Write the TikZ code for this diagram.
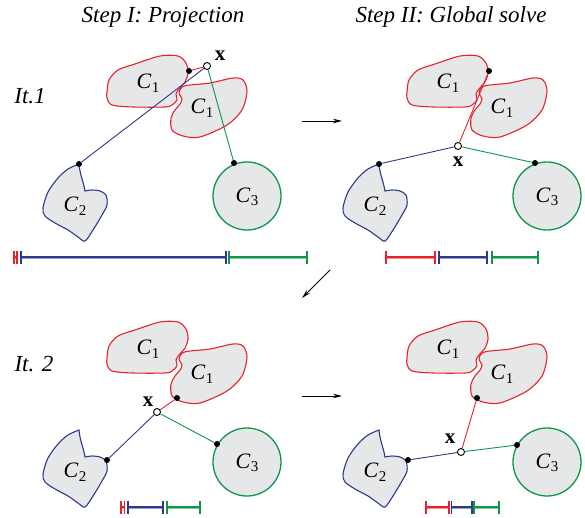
\documentclass[tikz,border=0pt]{standalone}
\usepackage{fontspec}
\setmainfont{Liberation Serif}
\usetikzlibrary{arrows.meta}
\definecolor{cred}{RGB}{232,34,44}
\definecolor{cblue}{RGB}{46,56,140}
\definecolor{cgreen}{RGB}{14,150,72}
\definecolor{cfill}{RGB}{230,231,233}
\tikzset{
  blobred/.style={draw=cred, fill=cfill, line width=1.1pt},
  blobblue/.style={draw=cblue, fill=cfill, line width=1.1pt},
  blobgreen/.style={draw=cgreen, fill=cfill, line width=1.3pt},
  dotn/.style={circle, fill=black, inner sep=0pt, minimum size=6pt},
  xpt/.style={circle, draw=black, fill=white, inner sep=0pt, minimum size=7pt, line width=0.9pt},
  conn/.style={line width=0.9pt},
  clab/.style={font=\fontsize{22}{24}\selectfont, inner sep=0pt},
  xlab/.style={font=\fontsize{21}{22}\selectfont\bfseries, inner sep=0pt},
  ttl/.style={font=\fontsize{23}{25}\selectfont\itshape, inner sep=0pt, anchor=base},
  stepar/.style={-{Stealth[length=9pt,width=4.5pt]}, line width=0.9pt},
}
\newcommand\Clab[1]{\textit{C}\kern0.3pt\raisebox{-0.35ex}{\fontsize{15}{15}\selectfont #1}}
\newcommand\seg[4]{%
  \draw[#1!50, line width=3pt] (#2,#4) -- (#3,#4);
  \draw[#1, line width=1.3pt] (#2,#4) -- (#3,#4);
  \draw[#1, line width=1.8pt] (#2,#4-6.5) -- (#2,#4+6.5) (#3,#4-6.5) -- (#3,#4+6.5);}
\newcommand\blobset[1]{%
  \path[blobred] plot[smooth cycle] coordinates {(107,92) (109,80) (118,70) (135,64) (160,56) (178,56) (186,63) (188,73) (185,82) (179,89) (176,94) (177,100) (172,105) (165,107) (133,107) (112,105) (107,98)};
  \path[blobred] plot[smooth cycle] coordinates {(182,87) (179,93) (182,99) (180,104) (175,110) (171,118) (172,130) (183,136) (200,137) (227,125) (242,110) (247,91) (243,80) (233,78) (210,83) (190,85)};
  \path[blobblue] (79,164) to[out=-85,in=100] (85,191) -- plot[smooth] coordinates {(85,191) (92,190) (100,191) (106,195) (107,205) (102,215) (93,230) (85,241) (78,237) (68,230) (55,223) (45,216) (43,208) (48,192) (58,178) (68,169) (79,164)} -- cycle;
  \path[blobgreen] (247,196) circle[radius=34];
  \node[clab] (ca#1) at (148,83) {\Clab{1}};
  \node[clab] (cb#1) at (202,108) {\Clab{1}};
  \node[clab] (cc#1) at (75,206) {\Clab{2}};
  \node[clab] (cd#1) at (247,197) {\Clab{3}};
}
\begin{document}
\begin{tikzpicture}[x=1pt,y=-1pt]
\useasboundingbox (0,0) rectangle (585,518);
% titles
\node[ttl] (t1) at (163,23) {Step I: Projection};
\node[ttl] (t2) at (451,23) {Step II: Global solve};
\node[ttl] (it1) at (30,104) {It.1};
\node[ttl] (it2) at (34,371) {It. 2};
% panels
\blobset{p}
\begin{scope}[shift={(300,0)}]\blobset{q}\end{scope}
\begin{scope}[shift={(0,266)}]\blobset{r}\end{scope}
\begin{scope}[shift={(300,266)}]\blobset{s}\end{scope}
% panel 1
\node[xpt] (x1) at (207,66) {};
\node[dotn] (r1) at (189,71) {};
\node[dotn] (b1) at (79,164) {};
\node[dotn] (g1) at (234,163) {};
\draw[conn,cred] (x1) -- (r1);
\draw[conn,cblue] (x1) -- (b1);
\draw[conn,cgreen] (x1) -- (g1);
\node[xlab] (xl1) at (220,56) {x};
% panel 2
\node[xpt] (x2) at (458,146) {};
\node[dotn] (r2) at (489,71) {};
\node[dotn] (b2) at (379,164) {};
\node[dotn] (g2) at (535,163) {};
\draw[conn,cred] (x2) -- (r2);
\draw[conn,cblue] (x2) -- (b2);
\draw[conn,cgreen] (x2) -- (g2);
\node[xlab] (xl2) at (458,162) {x};
% panel 3
\node[xpt] (x3) at (157,412) {};
\node[dotn] (r3) at (177,398) {};
\node[dotn] (b3) at (107,460) {};
\node[dotn] (g3) at (217,444) {};
\draw[conn,cred] (x3) -- (r3);
\draw[conn,cblue] (x3) -- (b3);
\draw[conn,cgreen] (x3) -- (g3);
\node[xlab] (xl3) at (148,402) {x};
% panel 4
\node[xpt] (x4) at (461,452) {};
\node[dotn] (r4) at (477,398) {};
\node[dotn] (b4) at (408,460) {};
\node[dotn] (g4) at (517,445) {};
\draw[conn,cred] (x4) -- (r4);
\draw[conn,cblue] (x4) -- (b4);
\draw[conn,cgreen] (x4) -- (g4);
\node[xlab] (xl4) at (450,439) {x};
% bars
\seg{cred}{14}{17}{257}\seg{cblue}{21}{226}{257}\seg{cgreen}{229}{307}{257}
\seg{cred}{386}{435}{257}\seg{cblue}{439}{487}{257}\seg{cgreen}{492}{538}{257}
\seg{cred}{121}{124.5}{507}\seg{cblue}{128}{163}{507}\seg{cgreen}{167}{200}{507}
\seg{cred}{426}{449}{507}\seg{cblue}{451.5}{472}{507}\seg{cgreen}{474}{499}{507}
% arrows
\coordinate (a1s) at (302,121); \coordinate (a1e) at (342,121);
\coordinate (a2s) at (330,270); \coordinate (a2e) at (302,298);
\coordinate (a3s) at (302,396); \coordinate (a3e) at (342,396);
\draw[stepar] (a1s) -- (a1e);
\draw[stepar] (a2s) -- (a2e);
\draw[stepar] (a3s) -- (a3e);
\end{tikzpicture}
\end{document}
